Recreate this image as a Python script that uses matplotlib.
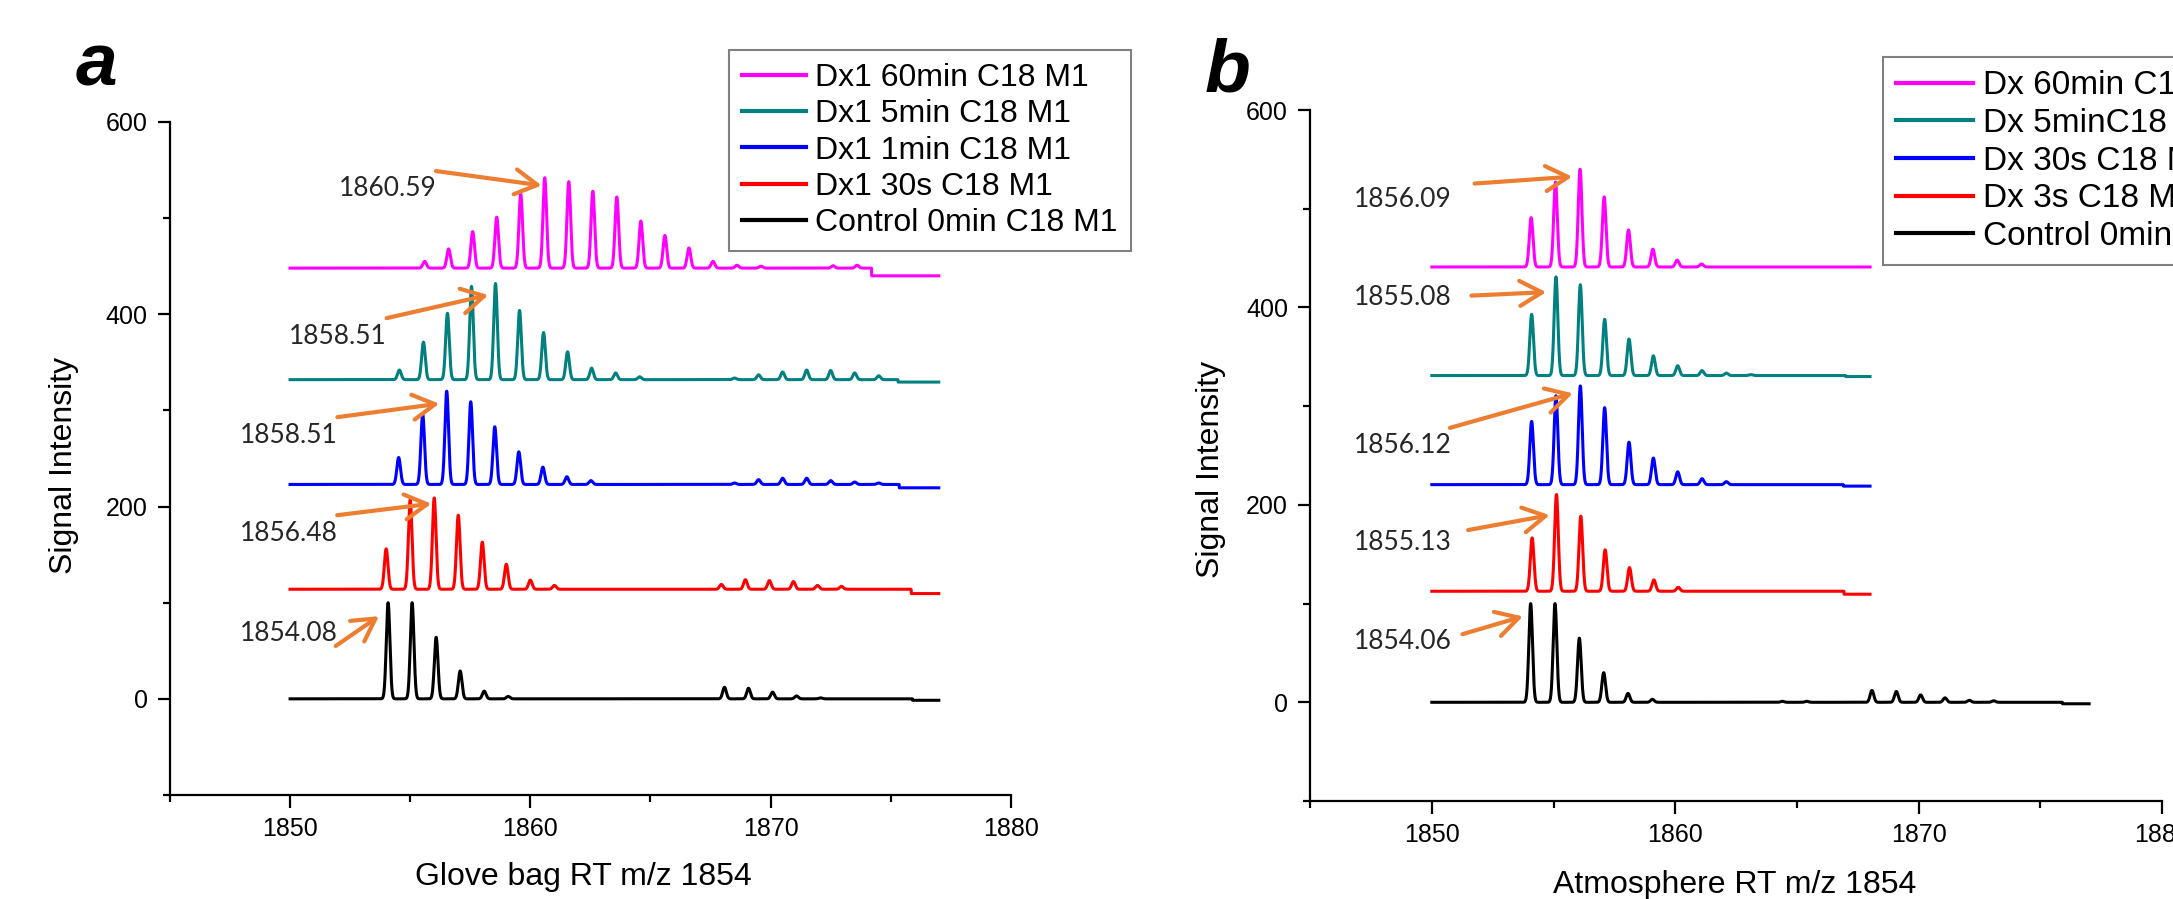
import matplotlib
matplotlib.use('Agg')

import numpy as np
import matplotlib.pyplot as plt
from matplotlib.ticker import MultipleLocator

# ---- data ----
colors = ["black", "#FF0000", "#0000FF", "#008080", "#FF00FF"]

# panel a (glove bag)
a_labels = ["Control 0min C18 M1", "Dx1 30s C18 M1", "Dx1 1min C18 M1",
            "Dx1 5min C18 M1", "Dx1 60min C18 M1"]
a_base = [0, 114, 223, 332, 448]
a_step_at = [1875.9, 1875.85, 1875.35, 1875.3, 1874.2]
a_step_to = [-1.5, 109.5, 219.5, 329.5, 440]
a_end = [1877, 1877, 1877, 1877, 1877]
a_centers = [
    [1854.08, 1855.08, 1856.08, 1857.08, 1858.08, 1859.08,
     1868.08, 1869.08, 1870.08, 1871.08, 1872.08],
    [1854.0, 1855.0, 1856.0, 1857.0, 1858.0, 1859.0, 1860.0, 1861.0,
     1867.95, 1868.95, 1869.95, 1870.95, 1871.95, 1872.95],
    [1854.52, 1855.52, 1856.52, 1857.52, 1858.52, 1859.52, 1860.52, 1861.52, 1862.52,
     1868.5, 1869.5, 1870.5, 1871.5, 1872.5, 1873.5, 1874.5],
    [1854.55, 1855.55, 1856.55, 1857.55, 1858.55, 1859.55, 1860.55, 1861.55,
     1862.55, 1863.55, 1864.55,
     1868.5, 1869.5, 1870.5, 1871.5, 1872.5, 1873.5, 1874.5],
    [1855.6, 1856.6, 1857.6, 1858.6, 1859.6, 1860.6, 1861.6, 1862.6, 1863.6,
     1864.6, 1865.6, 1866.6, 1867.6, 1868.6, 1869.6, 1872.6, 1873.6],
]
a_heights = [
    [100, 100, 64, 29, 8, 2.5, 12, 11, 7, 3, 1],
    [42, 93, 95, 77, 49, 26, 9.5, 4, 5, 10, 9, 8, 4, 3],
    [28, 73, 97, 86, 60, 34, 18, 8, 4, 1.5, 5, 6.5, 6.5, 4, 2.5, 1.5],
    [10, 39, 69, 97, 100, 72, 49, 29, 12, 7, 3, 1.7, 5, 8, 10, 9.5, 7, 4],
    [7, 20, 38, 53, 77, 94, 90, 80, 74, 49, 34, 21, 7, 3, 2, 2.5, 3],
]
a_notes = ["1854.08", "1856.48", "1858.51", "1858.51", "1860.59"]
a_note_xy = [(1849.94, 68), (1849.94, 172), (1849.94, 274), (1852.0, 377), (1854.07, 531)]
a_tail = [(1851.9, 55), (1851.96, 191), (1851.97, 293), (1854.02, 396), (1856.07, 549)]
a_tip = [(1853.7, 86), (1855.88, 203), (1856.21, 307), (1858.25, 420), (1860.47, 534)]

# panel b (atmosphere)
b_labels = ["Control 0min C18 M1", "Dx 3s C18 M1", "Dx 30s C18 M1",
            "Dx 5minC18 M1", "Dx 60min C18 M1"]
b_base = [0, 112.5, 220.5, 331, 441]
b_step_at = [1875.9, 1866.93, 1866.9, 1867.0, 1868.0]
b_step_to = [-1.5, 109.5, 219, 330, 441]
b_end = [1877, 1868, 1868, 1868, 1868]
b_centers = [
    [1854.06, 1855.06, 1856.06, 1857.06, 1858.06, 1859.06, 1864.4, 1865.4,
     1868.08, 1869.08, 1870.08, 1871.08, 1872.08, 1873.08],
    [1854.12, 1855.12, 1856.12, 1857.12, 1858.12, 1859.12, 1860.12],
    [1854.1, 1855.1, 1856.1, 1857.1, 1858.1, 1859.1, 1860.1, 1861.1, 1862.1],
    [1854.1, 1855.1, 1856.1, 1857.1, 1858.1, 1859.1, 1860.1, 1861.1, 1862.1, 1863.1],
    [1854.08, 1855.08, 1856.09, 1857.08, 1858.08, 1859.08, 1860.08, 1861.08],
]
b_heights = [
    [100, 100, 65, 30, 9, 3, 1, 1, 12, 11, 7.5, 4.5, 2, 1.5],
    [54, 98, 76, 42, 24, 11.5, 4],
    [64, 90, 100, 78, 43, 27, 13, 6, 3],
    [62, 100, 92, 57, 37, 20, 10, 5, 2.5, 1],
    [50, 86, 99, 71, 37.5, 18, 7, 3],
]
b_notes = ["1854.06", "1855.13", "1856.12", "1855.08", "1856.09"]
b_note_xy = [(1848.8, 62), (1848.8, 162), (1848.8, 260), (1848.8, 410), (1848.8, 509)]
b_tail = [(1851.26, 69), (1851.49, 174.5), (1850.74, 278), (1851.63, 412), (1851.76, 525.5)]
b_tip = [(1853.74, 87), (1854.84, 189.6), (1855.79, 313), (1854.7, 415.5), (1855.77, 532.5)]

orange = "#ED7D31"
SIGMA = 0.075  # peak line shape width


def spectrum(base, step_at, step_to, end, centers, heights):
    x = np.linspace(1850, end, 8000)
    y = np.where(x < step_at, base, step_to).astype(float)
    for c, h in zip(centers, heights):
        y = y + h * np.exp(-0.5 * ((x - c) / SIGMA) ** 2)
    return x, y


def draw_panel(ax, labels, base, step_at, step_to, end, centers, heights,
               notes, note_xy, tail, tip, xlabel):
    lines = []
    for i in range(5):
        x, y = spectrum(base[i], step_at[i], step_to[i], end[i], centers[i], heights[i])
        ln, = ax.plot(x, y, color=colors[i], lw=2.2, label=labels[i])
        lines.append(ln)
    for s, p, t0, t1 in zip(notes, note_xy, tail, tip):
        ax.text(p[0], p[1], s, ha='center', va='center', fontsize=19,
                family=['Lato', 'DejaVu Sans'], color='#262626')
        ax.annotate('', xy=t1, xytext=t0,
                    arrowprops=dict(arrowstyle='->,head_length=0.8,head_width=0.45',
                                    color=orange, lw=3.0, mutation_scale=20,
                                    shrinkA=0, shrinkB=0))
    ax.set_xlim(1845, 1880)
    ax.set_ylim(-100, 600)
    ax.xaxis.set_major_locator(MultipleLocator(10))
    ax.xaxis.set_minor_locator(MultipleLocator(5))
    ax.yaxis.set_major_locator(MultipleLocator(200))
    ax.yaxis.set_minor_locator(MultipleLocator(100))
    for sp in ['top', 'right']:
        ax.spines[sp].set_visible(False)
    for sp in ['left', 'bottom']:
        ax.spines[sp].set_linewidth(1.6)
    ax.tick_params(which='major', direction='out', length=9, width=1.6,
                   labelsize=18, pad=7)
    ax.tick_params(which='minor', direction='out', length=5, width=1.6)
    ax.set_xlabel(xlabel, fontsize=23)
    ax.set_ylabel("Signal Intensity", fontsize=23)
    return lines


plt.rcParams['font.family'] = ['Liberation Sans', 'DejaVu Sans']

fig = plt.figure(figsize=(21.73, 8.99), dpi=100)
ax_a = fig.add_axes([0.0782, 0.1157, 0.3870, 0.7486])
ax_b = fig.add_axes([0.6029, 0.1090, 0.3921, 0.7686])

la = draw_panel(ax_a, a_labels, a_base, a_step_at, a_step_to, a_end, a_centers,
                a_heights, a_notes, a_note_xy, a_tail, a_tip, "Glove bag RT m/z 1854")
lb = draw_panel(ax_b, b_labels, b_base, b_step_at, b_step_to, b_end, b_centers,
                b_heights, b_notes, b_note_xy, b_tail, b_tip, "Atmosphere RT m/z 1854")

ax_a.yaxis.set_label_coords(-0.108, 0.49)
ax_a.xaxis.set_label_coords(0.492, -0.10)
ax_b.yaxis.set_label_coords(-0.099, 0.48)
ax_b.xaxis.set_label_coords(0.498, -0.100)

legend_opts = [(ax_a, la, (0.3355, 0.9444), 23, 2.0),
               (ax_b, lb, (0.8666, 0.9366), 24, 2.3)]
for ax, lines, anchor, fs, hl in legend_opts:
    leg = ax.legend(lines[::-1], [l.get_label() for l in lines[::-1]],
                    loc='upper left', bbox_to_anchor=anchor,
                    bbox_transform=fig.transFigure, fontsize=fs,
                    handlelength=hl, handletextpad=0.3, labelspacing=0.2,
                    borderpad=0.4, borderaxespad=0, fancybox=False,
                    framealpha=1)
    leg.get_frame().set_edgecolor('#808080')
    leg.get_frame().set_linewidth(1.5)
    for h in leg.get_lines():
        h.set_linewidth(3)

fig.text(0.0446, 0.9050, 'a', fontsize=54, fontweight='bold', fontstyle='italic',
         ha='center', va='baseline')
fig.text(0.5651, 0.8977, 'b', fontsize=54, fontweight='bold', fontstyle='italic',
         ha='center', va='baseline')

plt.savefig("out.png", dpi=100)
